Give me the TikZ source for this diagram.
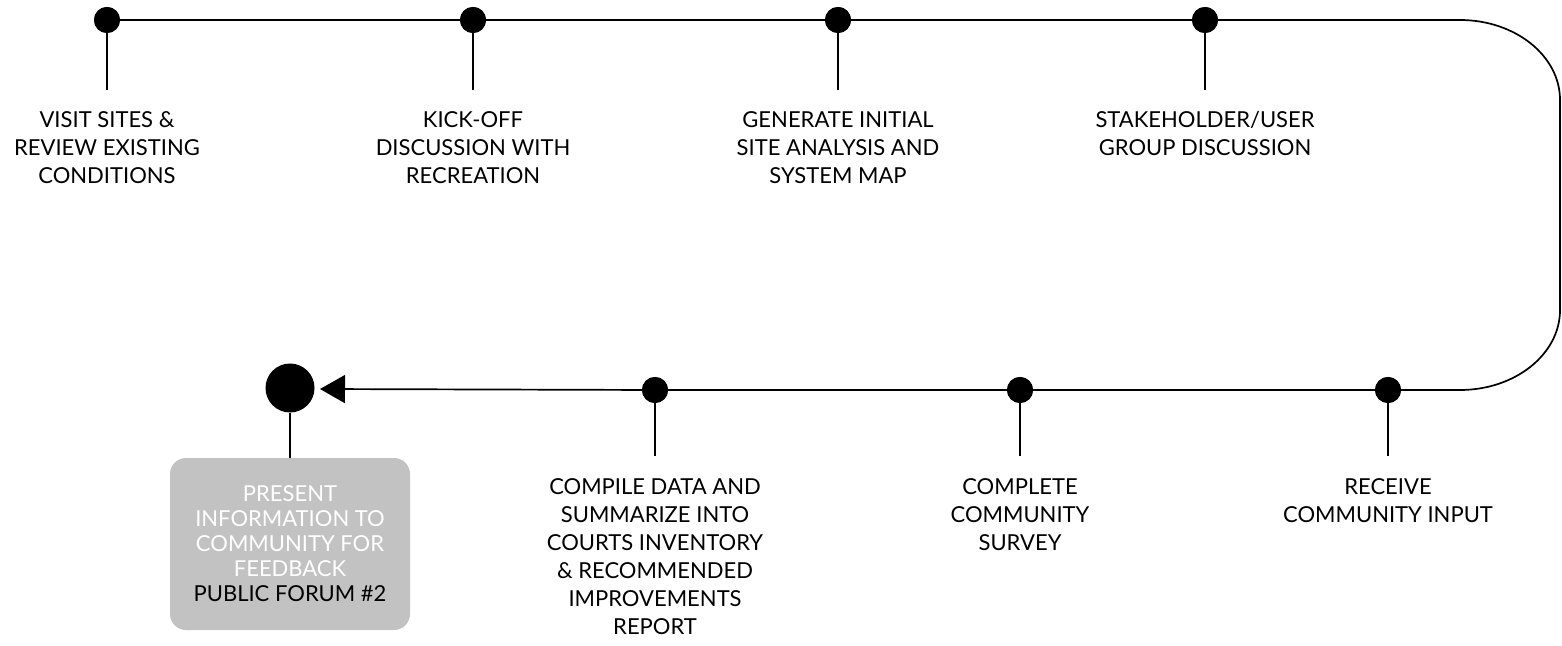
\documentclass[tikz,border=0pt]{standalone}
\usepackage{fontspec}
\setmainfont{Lato}
\usetikzlibrary{arrows.meta}
\begin{document}
\begin{tikzpicture}[x=0.5pt,y=-0.5pt,
  dotnode/.style={circle,fill=black,minimum size=13pt,inner sep=0pt},
  bigdot/.style={circle,fill=black,minimum size=24.5pt,inner sep=0pt},
  stem/.style={line width=0.85pt},
  mainline/.style={line width=0.85pt},
  lbl/.style={anchor=north,align=center,inner sep=0pt,font=\fontsize{11}{14}\selectfont},
  forumbox/.style={rounded corners=8pt,fill=black!24,minimum width=120pt,minimum height=86pt,inner sep=0pt,align=center,font=\fontsize{11}{12.5}\selectfont}
]
\useasboundingbox (0,0) rectangle (1562,646);
% dots top
\node[dotnode] (d1) at (107,20) {};
\node[dotnode] (d2) at (473,20) {};
\node[dotnode] (d3) at (838,20) {};
\node[dotnode] (d4) at (1205,20) {};
% dots bottom
\node[dotnode] (d5) at (1388,390) {};
\node[dotnode] (d6) at (1020,390) {};
\node[dotnode] (d7) at (655,390) {};
\node[bigdot] (d8) at (290,388) {};
\coordinate (tip) at (320,389);
\coordinate (c1) at (1460,20);
% main line
\draw[mainline] (d1.center) -- (d2.center) -- (d3.center) -- (d4.center) -- (c1)
  arc[start angle=90,end angle=0,x radius=50pt,y radius=40pt]
  -- ++(0,210)
  arc[start angle=0,end angle=-90,x radius=50pt,y radius=40pt]
  -- (d5.center) -- (d6.center) -- (d7.center);
\draw[mainline,-{Triangle[length=12.5pt,width=14pt]}] (d7.center) -- (tip);
% redraw dots on top of the line
\foreach \x/\y in {107/20,473/20,838/20,1205/20,1388/390,1020/390,655/390}
  \fill (\x,\y) circle (6.5pt);
% labels top
\node[lbl] (t1) at (107,111) {VISIT SITES \&\\REVIEW EXISTING\\CONDITIONS};
\node[lbl] (t2) at (473,111) {KICK-OFF\\DISCUSSION WITH\\RECREATION};
\node[lbl] (t3) at (838,111) {GENERATE INITIAL\\SITE ANALYSIS AND\\SYSTEM MAP};
\node[lbl] (t4) at (1205,111) {STAKEHOLDER/USER\\GROUP DISCUSSION};
% labels bottom
\node[lbl] (t5) at (1388,478) {RECEIVE\\COMMUNITY INPUT};
\node[lbl] (t6) at (1020,478) {COMPLETE\\COMMUNITY\\SURVEY};
\node[lbl] (t7) at (655,478) {COMPILE DATA AND\\SUMMARIZE INTO\\COURTS INVENTORY\\\& RECOMMENDED\\IMPROVEMENTS\\REPORT};
\node[forumbox] (t8) at (290,544) {\textcolor{white}{PRESENT}\\\textcolor{white}{INFORMATION TO}\\\textcolor{white}{COMMUNITY FOR}\\\textcolor{white}{FEEDBACK}\\PUBLIC FORUM \#2};
% stems
\draw[stem] (d1) -- (107,90);
\draw[stem] (d2) -- (473,90);
\draw[stem] (d3) -- (838,90);
\draw[stem] (d4) -- (1205,90);
\draw[stem] (d5) -- (1388,456);
\draw[stem] (d6) -- (1020,456);
\draw[stem] (d7) -- (655,456);
\draw[stem] (d8) -- (t8.north);
\end{tikzpicture}
\end{document}
